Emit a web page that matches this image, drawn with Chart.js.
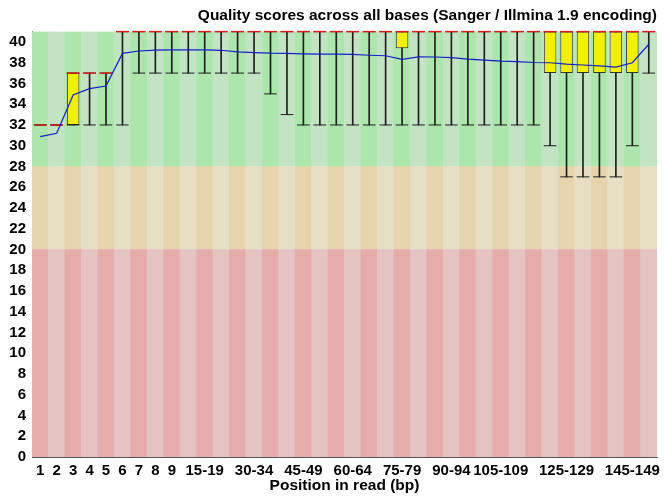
<!DOCTYPE html>
<html>
<head>
<meta charset="utf-8">
<script src="https://cdn.jsdelivr.net/npm/chart.js@4.4.0/dist/chart.umd.min.js"></script>
<style>
  html, body { margin: 0; padding: 0; background: #ffffff; }
  #wrap { width: 665px; height: 500px; }
</style>
</head>
<body>
<div id="wrap"><canvas id="c" width="665" height="500"></canvas></div>
<script>
// ---- Data ----
const categories = ['1','2','3','4','5','6','7','8','9','10-14','15-19','20-24','25-29','30-34','35-39','40-44','45-49','50-54','55-59','60-64','65-69','70-74','75-79','80-84','85-89','90-94','95-99','100-104','105-109','110-114','115-119','120-124','125-129','130-134','135-139','140-144','145-149','150-151'];
const shownLabelIndices = [0,1,2,3,4,5,6,7,8,10,13,16,19,22,25,28,32,36];

const meanQuality = [30.87,31.2,34.9,35.5,35.75,38.9,39.13,39.22,39.23,39.23,39.23,39.2,39.05,38.98,38.92,38.9,38.85,38.83,38.82,38.8,38.72,38.67,38.33,38.57,38.55,38.5,38.35,38.25,38.15,38.1,38.02,38.0,37.86,37.78,37.7,37.57,38.0,39.78];
const medianQuality = [32,32,37,37,37,41,41,41,41,41,41,41,41,41,41,41,41,41,41,41,41,41,41,41,41,41,41,41,41,41,41,41,41,41,41,41,41,41];
const lowerQuartile = [32,32,32,37,37,41,41,41,41,41,41,41,41,41,41,41,41,41,41,41,41,41,39.4,41,41,41,41,41,41,41,41,37,37,37,37,37,37,41];
const upperQuartile = [32,32,37,37,37,41,41,41,41,41,41,41,41,41,41,41,41,41,41,41,41,41,41,41,41,41,41,41,41,41,41,41,41,41,41,41,41,41];
const percentile10 = [32,32,32,32,32,32,37,37,37,37,37,37,37,37,35,33,32,32,32,32,32,32,32,32,32,32,32,32,32,32,32,30,27,27,27,27,30,37];
const percentile90 = [32,32,37,37,37,41,41,41,41,41,41,41,41,41,41,41,41,41,41,41,41,41,41,41,41,41,41,41,41,41,41,41,41,41,41,41,41,41];
const yTickValues = [0,2,4,6,8,10,12,14,16,18,20,22,24,26,28,30,32,34,36,38,40];
const bandEdges = [0, 20, 28, 41];

// ---- Styles ----
const FONT = '"Liberation Sans", Arial, Helvetica, sans-serif';
const bandColors = [
  ['rgb(230,172,172)', 'rgb(230,195,195)'], // bad (red)
  ['rgb(230,213,172)', 'rgb(230,223,195)'], // ugly (orange)
  ['rgb(172,230,172)', 'rgb(195,228,195)']  // good (green)
];

const bandDatasets = [0,1,2].map(b => ({
  type: 'bar',
  data: categories.map(() => [bandEdges[b], bandEdges[b+1]]),
  backgroundColor: categories.map((_, i) => i % 2 === 0 ? bandColors[b][0] : bandColors[b][1]),
  borderWidth: 0,
  barPercentage: 1,
  categoryPercentage: 1,
  grouped: false,
  order: 10
}));

const datasets = [
  ...bandDatasets,
  {
    type: 'bar',
    label: 'whisker',
    data: categories.map((_, i) => [percentile10[i], percentile90[i]]),
    backgroundColor: '#1e1e1e',
    borderWidth: 0,
    barThickness: 1,
    grouped: false,
    order: 6
  },
  {
    type: 'bar',
    label: 'box',
    data: categories.map((_, i) => lowerQuartile[i] === upperQuartile[i] ? null : [lowerQuartile[i], upperQuartile[i]]),
    backgroundColor: 'rgb(240,240,0)',
    borderColor: '#333333',
    borderWidth: 1,
    borderSkipped: false,
    barPercentage: 0.76,
    categoryPercentage: 1,
    grouped: false,
    order: 5
  },
  {
    type: 'line',
    label: 'p10',
    data: percentile10,
    showLine: false,
    clip: false,
    pointStyle: 'line',
    pointRadius: 6.3,
    pointBorderColor: '#1e1e1e',
    pointBorderWidth: 1,
    order: 4
  },
  {
    type: 'line',
    label: 'p90',
    data: percentile90,
    showLine: false,
    clip: false,
    pointStyle: 'line',
    pointRadius: 6.3,
    pointBorderColor: '#1e1e1e',
    pointBorderWidth: 1,
    order: 3
  },
  {
    type: 'line',
    label: 'median',
    data: medianQuality,
    showLine: false,
    clip: false,
    pointStyle: 'line',
    pointRadius: 6.4,
    pointBorderColor: 'rgb(215,30,30)',
    pointBorderWidth: 1.5,
    order: 2
  },
  {
    type: 'line',
    label: 'mean',
    data: meanQuality,
    borderColor: 'rgb(20,30,200)',
    borderWidth: 1.2,
    pointRadius: 0,
    tension: 0,
    fill: false,
    order: 1
  }
];

new Chart(document.getElementById('c'), {
  type: 'bar',
  data: { labels: categories, datasets },
  options: {
    responsive: false,
    animation: false,
    layout: { padding: { left: 0, right: 8, top: 0, bottom: 0 } },
    plugins: {
      legend: { display: false },
      tooltip: { enabled: false },
      title: {
        display: true,
        text: 'Quality scores across all bases (Sanger / Illmina 1.9 encoding)',
        align: 'end',
        color: '#000000',
        font: { family: FONT, size: 15.5, weight: 'bold' },
        padding: { top: 6, bottom: 7 }
      }
    },
    scales: {
      x: {
        type: 'category',
        offset: true,
        grid: { display: false, drawTicks: false },
        border: { display: true, color: '#555555', width: 1 },
        ticks: {
          autoSkip: false,
          maxRotation: 0,
          minRotation: 0,
          padding: 5,
          color: '#000000',
          font: { family: FONT, size: 15, weight: 'bold' },
          callback: function(value, index) {
            return shownLabelIndices.includes(index) ? categories[index] : '';
          }
        },
        title: {
          display: true,
          text: 'Position in read (bp)',
          color: '#000000',
          font: { family: FONT, size: 15.5, weight: 'bold' },
          padding: { top: 0, bottom: 5 }
        },
        afterFit: function(scale) { scale.height = 43; }
      },
      y: {
        type: 'linear',
        min: bandEdges[0],
        max: bandEdges[3],
        grid: { display: false, drawTicks: false },
        border: { display: true, color: '#555555', width: 1 },
        afterBuildTicks: function(scale) {
          scale.ticks = yTickValues.map(v => ({ value: v }));
        },
        ticks: {
          padding: 6,
          color: '#000000',
          font: { family: FONT, size: 15, weight: 'bold' }
        },
        afterFit: function(scale) { scale.width = 32; }
      }
    }
  }
});
</script>
</body>
</html>
